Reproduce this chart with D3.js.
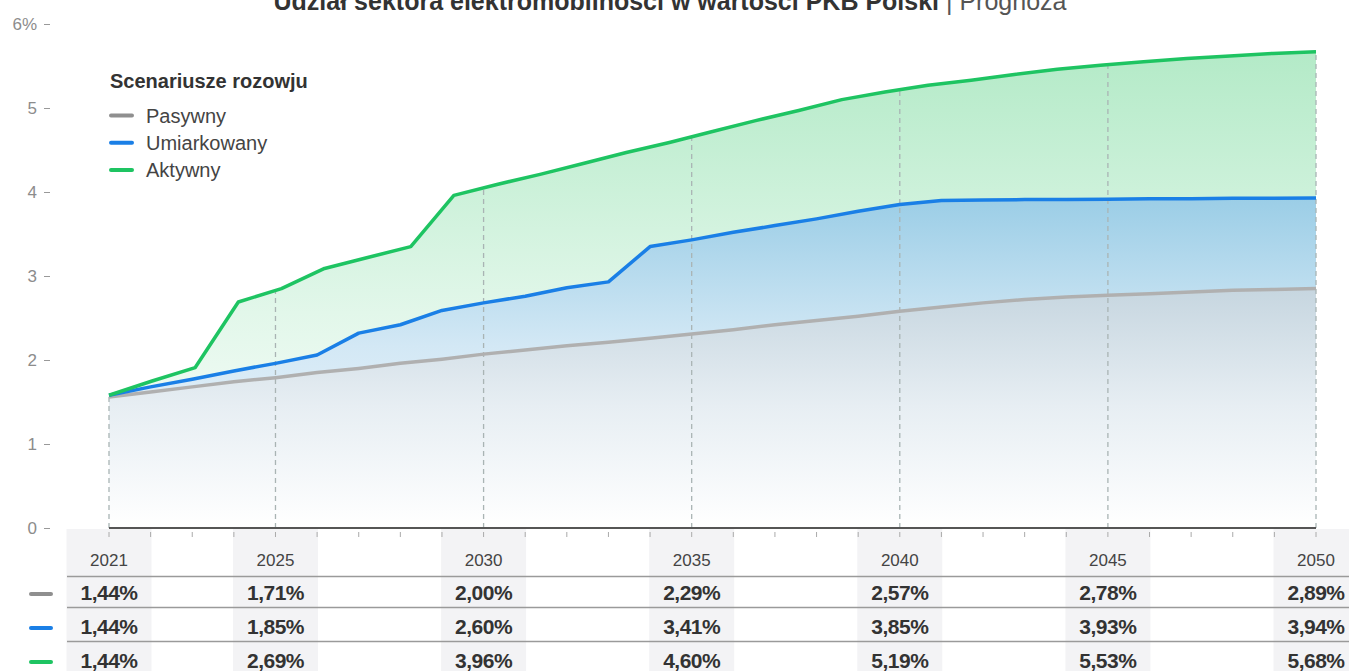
<!DOCTYPE html>
<html>
<head>
<meta charset="utf-8">
<script src="https://cdn.jsdelivr.net/npm/d3@7"></script>
<style>
  body { margin: 0; background: #fff; }
  svg { font-family: "Liberation Sans", Arial, sans-serif; display: block; }
</style>
</head>
<body>
<div id="chart"></div>
<script>
(function () {
  'use strict';

  // series as plotted
  const years = [2021, 2022, 2023, 2024, 2025, 2026, 2027, 2028, 2029, 2030,
    2031, 2032, 2033, 2034, 2035, 2036, 2037, 2038, 2039, 2040,
    2041, 2042, 2043, 2044, 2045, 2046, 2047, 2048, 2049, 2050];
  const pasywny = [1.56, 1.62, 1.68, 1.74, 1.79, 1.85, 1.90, 1.96, 2.01, 2.07,
    2.12, 2.17, 2.21, 2.26, 2.31, 2.36, 2.42, 2.47, 2.52, 2.58,
    2.63, 2.68, 2.72, 2.75, 2.77, 2.79, 2.81, 2.83, 2.84, 2.85];
  const umiarkowany = [1.58, 1.68, 1.77, 1.87, 1.96, 2.06, 2.32, 2.42, 2.59, 2.68,
    2.76, 2.86, 2.93, 3.35, 3.43, 3.52, 3.60, 3.68, 3.77, 3.85,
    3.90, 3.905, 3.91, 3.91, 3.915, 3.92, 3.92, 3.925, 3.925, 3.93];
  // the green series has one point less, spread over the same range
  const aktywny = [1.58, 1.75, 1.91, 2.69, 2.85, 3.09, 3.22, 3.35, 3.96, 4.09,
    4.21, 4.34, 4.47, 4.59, 4.72, 4.85, 4.97, 5.10, 5.19, 5.27,
    5.33, 5.40, 5.46, 5.51, 5.55, 5.59, 5.62, 5.65, 5.67];

  // table below the chart
  const tableYears = [2021, 2025, 2030, 2035, 2040, 2045, 2050];
  const tablePasywny = [1.44, 1.71, 2.00, 2.29, 2.57, 2.78, 2.89];
  const tableUmiarkowany = [1.44, 1.85, 2.60, 3.41, 3.85, 3.93, 3.94];
  const tableAktywny = [1.44, 2.69, 3.96, 4.60, 5.19, 5.53, 5.68];

  const yTicks = [0, 1, 2, 3, 4, 5, 6];
  const seriesNames = ['Pasywny', 'Umiarkowany', 'Aktywny'];

  const width = 1349, height = 671;
  const lineColors = ['#b0b0b0', '#1a7fe6', '#1ec462'];
  const markColors = ['#8f8f8f', '#1a7fe6', '#1ec462'];

  const svg = d3.select('#chart').append('svg')
    .attr('width', width)
    .attr('height', height);

  const x = d3.scaleLinear().domain([2021, 2050]).range([109, 1316]);
  const y = d3.scaleLinear().domain([0, 6]).range([528, 24]);
  const aktywnyYear = d3.scaleLinear().domain([0, aktywny.length - 1]).range([2021, 2050]);

  const gray = years.map((yr, i) => [yr, pasywny[i]]);
  const blue = years.map((yr, i) => [yr, umiarkowany[i]]);
  const green = aktywny.map((v, i) => [aktywnyYear(i), v]);

  // gradients
  const defs = svg.append('defs');
  function grad(id, top, stops) {
    const g = defs.append('linearGradient').attr('id', id)
      .attr('gradientUnits', 'userSpaceOnUse')
      .attr('x1', 0).attr('x2', 0).attr('y1', top).attr('y2', y(0));
    stops.forEach(s => g.append('stop').attr('offset', s[0]).attr('stop-color', s[1]));
  }
  grad('gGreen', y(5.7), [[0, '#b3eac7'], [0.55, '#e2f7ea'], [1, '#ffffff']]);
  grad('gBlue', y(3.95), [[0, '#9acde6'], [0.45, '#d3e8f5'], [1, '#f6fafd']]);
  grad('gGray', y(2.9), [[0, '#c5d5df'], [0.5, '#e7eef3'], [1, '#ffffff']]);

  const area = d3.area().x(d => x(d[0])).y0(y(0)).y1(d => y(d[1]));
  const line = d3.line().x(d => x(d[0])).y(d => y(d[1]));

  svg.append('path').datum(green).attr('d', area).attr('fill', 'url(#gGreen)');
  svg.append('path').datum(blue).attr('d', area).attr('fill', 'url(#gBlue)');
  svg.append('path').datum(gray).attr('d', area).attr('fill', 'url(#gGray)');

  // shaded table columns
  svg.append('g').selectAll('rect')
    .data(tableYears)
    .join('rect')
    .attr('x', d => x(d) - 42.5)
    .attr('y', y(0) + 1)
    .attr('width', 85)
    .attr('height', height - y(0))
    .attr('fill', '#f3f3f5');

  // dashed guides up to the green line
  const greenAt = yr => {
    const t = (yr - 2021) / 29 * (aktywny.length - 1);
    const i = Math.min(Math.floor(t), aktywny.length - 2);
    return aktywny[i] + (aktywny[i + 1] - aktywny[i]) * (t - i);
  };
  svg.append('g').selectAll('line')
    .data(tableYears)
    .join('line')
    .attr('x1', d => x(d)).attr('x2', d => x(d))
    .attr('y1', y(0)).attr('y2', d => y(greenAt(d)))
    .attr('stroke', '#a9b4b4')
    .attr('stroke-width', 1.3)
    .attr('stroke-dasharray', '5,4');

  // lines
  [gray, blue, green].forEach((s, i) => {
    svg.append('path').datum(s)
      .attr('d', line)
      .attr('fill', 'none')
      .attr('stroke', lineColors[i])
      .attr('stroke-width', 3.5)
      .attr('stroke-linejoin', 'round');
  });

  // x axis line and year ticks
  svg.append('line')
    .attr('x1', x(2021)).attr('x2', x(2050))
    .attr('y1', y(0)).attr('y2', y(0))
    .attr('stroke', '#555').attr('stroke-width', 2);
  svg.append('g').selectAll('line')
    .data(years)
    .join('line')
    .attr('x1', d => x(d)).attr('x2', d => x(d))
    .attr('y1', 532).attr('y2', 537)
    .attr('stroke', '#aaa').attr('stroke-width', 1);

  // y axis
  const yAxis = svg.append('g')
    .attr('transform', 'translate(50,0)')
    .call(d3.axisLeft(y).tickValues(yTicks).tickSize(6).tickPadding(7)
      .tickFormat(d => d === 6 ? '6%' : d));
  yAxis.select('.domain').remove();
  yAxis.selectAll('line').attr('stroke', '#999');
  yAxis.selectAll('text').attr('fill', '#8c8c8c').style('font-size', '17px');

  // title (cut at the top edge, as in the source)
  const title = svg.append('text')
    .attr('x', 670).attr('y', 10)
    .attr('text-anchor', 'middle')
    .style('font-size', '25px')
    .attr('fill', '#333');
  title.append('tspan').attr('font-weight', 'bold')
    .text('Udział sektora elektromobilności w wartości PKB Polski');
  title.append('tspan').attr('fill', '#555').text(' | Prognoza');

  // legend
  const legend = svg.append('g');
  legend.append('text')
    .attr('x', 110).attr('y', 88)
    .attr('font-weight', 'bold')
    .style('font-size', '20px')
    .attr('fill', '#333')
    .text('Scenariusze rozowju');
  const items = legend.selectAll('g.item')
    .data(seriesNames)
    .join('g')
    .attr('class', 'item')
    .attr('transform', (d, i) => `translate(110,${115.5 + i * 27.3})`);
  items.append('line')
    .attr('x1', 1).attr('x2', 22)
    .attr('stroke', (d, i) => markColors[i])
    .attr('stroke-width', 4)
    .attr('stroke-linecap', 'round');
  items.append('text')
    .attr('x', 36).attr('dy', '0.35em')
    .style('font-size', '20px')
    .attr('fill', '#444')
    .text(d => d);

  // table
  const fmt = d3.formatLocale({ decimal: ',', thousands: ' ', grouping: [3], currency: ['', ''] }).format('.2f');
  svg.append('g').selectAll('text')
    .data(tableYears)
    .join('text')
    .attr('x', d => x(d)).attr('y', 566)
    .attr('text-anchor', 'middle')
    .style('font-size', '17px')
    .attr('fill', '#444')
    .text(d => d);

  [576.5, 607.5, 641.5].forEach(ly => {
    svg.append('line')
      .attr('x1', 67).attr('x2', width)
      .attr('y1', ly).attr('y2', ly)
      .attr('stroke', '#9a9a9a').attr('stroke-width', 1.6);
  });

  const rows = [tablePasywny, tableUmiarkowany, tableAktywny];
  rows.forEach((row, r) => {
    const base = 600 + r * 34;
    svg.append('line')
      .attr('x1', 31).attr('x2', 51)
      .attr('y1', base - 6).attr('y2', base - 6)
      .attr('stroke', markColors[r]).attr('stroke-width', 4)
      .attr('stroke-linecap', 'round');
    svg.append('g').selectAll('text')
      .data(row)
      .join('text')
      .attr('x', (d, i) => x(tableYears[i])).attr('y', base)
      .attr('text-anchor', 'middle')
      .attr('font-weight', 'bold')
      .style('font-size', '21px')
      .style('letter-spacing', '-0.5px')
      .attr('fill', '#333')
      .text(d => fmt(d) + '%');
  });
})();
</script>
</body>
</html>
